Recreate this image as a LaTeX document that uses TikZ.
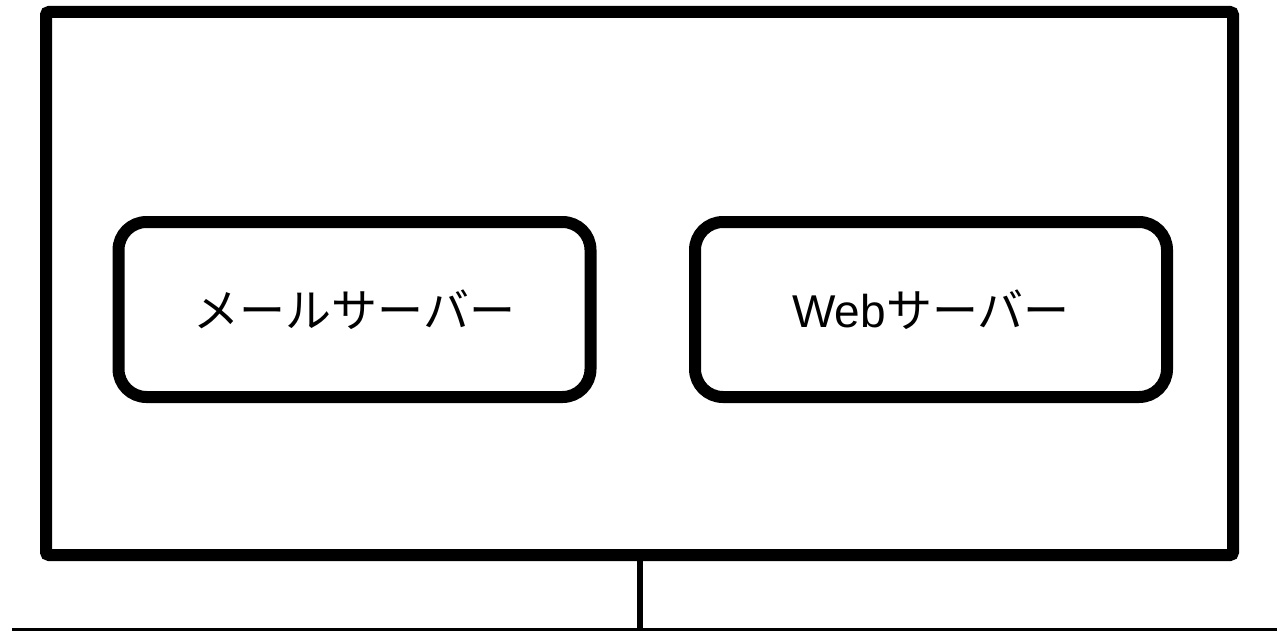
\documentclass[tikz,border=0pt]{standalone}
\usepackage{fontspec}
\setmainfont{Liberation Sans}
\newfontfamily\jpfont{Noto Sans CJK JP}
\tikzset{
	group_box/.style = {
		rectangle,
		draw=black,
		line width=6pt,
		rounded corners=1.5pt,
		minimum width=593.5pt,
		minimum height=271.5pt,
		inner sep=0pt
	},
	server_box/.style = {
		rectangle,
		draw=black,
		line width=6pt,
		rounded corners=14pt,
		minimum width=236pt,
		minimum height=87.5pt,
		inner sep=0pt,
		font=\fontsize{23}{27}\selectfont
	},
	net_line/.style = {
		line width=1.5pt
	},
	link_line/.style = {
		line width=3pt
	},
}

\begin{document}
\begin{tikzpicture}[x=0.5pt,y=-0.5pt]
\useasboundingbox (0,0) rectangle (1277,631);
\node [group_box] (group) at (639.5,283.5) {};
\node [server_box] (mail) at (354.5,309.5) {\jpfont メールサーバー};
\node [server_box] (web) at (931,309.5) {Web\jpfont サーバー};
\coordinate (net_l) at (12,629.5);
\coordinate (net_r) at (1277,629.5);
\draw [net_line] (net_l) -- (net_r);
\draw [link_line] (group.south) -- (group.south |- net_l);
\end{tikzpicture}
\end{document}
